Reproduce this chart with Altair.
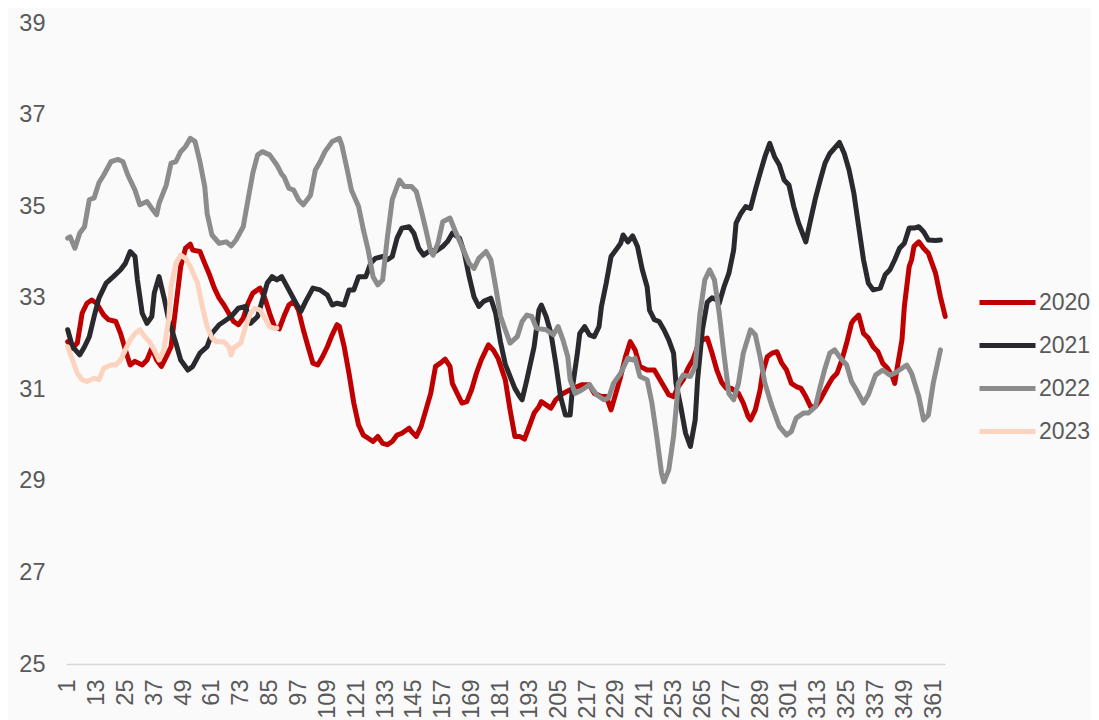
import altair as alt
import pandas as pd

years = ["2020", "2021", "2022", "2023"]
colors = ["#C00000", "#29292E", "#8C8C8C", "#FCD3BE"]

d2020 = [1, 3, 5, 7, 9, 11, 13, 16, 18, 21, 23, 25, 27, 29, 32, 34, 36, 38, 40, 42, 44, 46, 48, 50, 52, 53, 56, 58, 60, 62,
         64, 66, 68, 70, 72, 74, 76, 78, 81, 83, 85, 87, 89, 91, 93, 95, 97, 99, 101, 103, 105, 107, 109, 111, 113, 114, 116, 118, 120, 122,
         124, 126, 128, 130, 132, 134, 136, 138, 140, 143, 144, 146, 148, 150, 152, 154, 156, 158, 160, 161, 163, 165, 167, 169, 171, 173, 176, 178, 180, 183,
         185, 187, 189, 191, 193, 195, 197, 198, 200, 202, 204, 207, 210, 213, 215, 218, 220, 223, 225, 227, 229, 231, 233, 235, 237, 239, 242, 245, 247, 249,
         251, 253, 255, 257, 259, 261, 263, 265, 267, 269, 271, 273, 275, 277, 280, 282, 284, 285, 287, 289, 290, 292, 294, 296, 298, 300, 302, 304, 306, 308,
         310, 312, 314, 317, 319, 321, 323, 325, 327, 328, 330, 332, 334, 336, 338, 340, 342, 344, 345, 346, 348, 349, 351, 352, 353, 355, 357, 359, 362, 364, 366]
v2020 = [32.04, 31.90, 32.01, 32.66, 32.88, 32.95, 32.88, 32.62, 32.52, 32.48, 32.22, 31.86, 31.53, 31.61, 31.53, 31.64, 31.90, 31.64, 31.50, 31.71,
         31.93, 32.81, 33.68, 34.08, 34.17, 34.04, 34.01, 33.75, 33.50, 33.21, 32.99, 32.84, 32.66, 32.48, 32.41, 32.55, 32.88, 33.10, 33.21, 32.99,
         32.66, 32.37, 32.32, 32.60, 32.84, 32.92, 32.73, 32.30, 31.93, 31.57, 31.53, 31.71, 31.93, 32.19, 32.41, 32.37, 31.93, 31.35, 30.70, 30.22,
         30.00, 29.93, 29.86, 29.97, 29.82, 29.79, 29.86, 30.00, 30.04, 30.15, 30.08, 29.97, 30.19, 30.55, 30.91, 31.50, 31.57, 31.66, 31.50, 31.13,
         30.91, 30.70, 30.73, 30.99, 31.35, 31.64, 31.97, 31.86, 31.68, 31.21, 30.55, 29.97, 29.97, 29.91, 30.19, 30.48, 30.62, 30.73, 30.66, 30.59,
         30.77, 30.91, 30.99, 31.06, 31.10, 31.10, 30.91, 30.84, 30.84, 30.55, 30.91, 31.28, 31.71, 32.04, 31.86, 31.50, 31.42, 31.42, 31.24, 31.06,
         30.88, 30.84, 31.06, 31.21, 31.46, 31.64, 31.93, 32.08, 32.12, 31.79, 31.42, 31.15, 31.02, 31.02, 30.91, 30.70, 30.41, 30.33, 30.55, 30.99,
         31.35, 31.71, 31.79, 31.82, 31.57, 31.42, 31.13, 31.06, 31.02, 30.84, 30.62, 30.62, 30.77, 31.06, 31.24, 31.35, 31.64, 32.01, 32.44, 32.52,
         32.62, 32.22, 32.12, 31.93, 31.82, 31.57, 31.46, 31.28, 31.13, 31.46, 32.08, 32.81, 33.68, 33.83, 34.12, 34.22, 34.08, 33.97, 33.53, 33.02, 32.59]

d2021 = [1, 3, 6, 8, 10, 12, 14, 17, 20, 23, 25, 27, 29, 30, 32, 34, 36, 37, 39, 41, 43, 46, 48, 51, 53, 56, 59, 61, 64, 66,
         69, 72, 75, 77, 80, 82, 84, 86, 88, 90, 93, 96, 98, 100, 103, 106, 109, 111, 113, 116, 118, 120, 122, 125, 127, 129, 132, 134, 136, 138,
         140, 143, 145, 147, 149, 152, 154, 157, 159, 161, 164, 166, 168, 170, 172, 174, 177, 179, 181, 183, 185, 187, 189, 190, 192, 195, 197, 198, 200, 202,
         204, 206, 208, 210, 211, 213, 214, 216, 218, 220, 222, 223, 225, 227, 229, 231, 232, 234, 236, 238, 240, 242, 243, 245, 247, 249, 251, 253, 254, 256,
         258, 260, 262, 263, 265, 267, 269, 271, 272, 274, 276, 278, 279, 281, 283, 285, 287, 289, 291, 293, 295, 297, 299, 301, 303, 305, 308, 310, 312, 314,
         316, 318, 322, 324, 326, 328, 330, 332, 334, 336, 339, 341, 343, 345, 347, 349, 351, 353, 355, 357, 359, 362, 364]
v2021 = [32.30, 31.93, 31.75, 31.93, 32.15, 32.59, 32.99, 33.32, 33.46, 33.61, 33.75, 34.01, 33.90, 33.39, 32.66, 32.44, 32.59, 33.10, 33.46, 33.02,
         32.52, 32.01, 31.64, 31.42, 31.50, 31.79, 31.93, 32.22, 32.41, 32.48, 32.59, 32.77, 32.81, 32.44, 32.59, 32.95, 33.32, 33.46, 33.39, 33.46,
         33.17, 32.88, 32.70, 32.92, 33.21, 33.17, 33.06, 32.84, 32.88, 32.84, 33.17, 33.17, 33.46, 33.46, 33.75, 33.86, 33.90, 33.83, 33.90, 34.30,
         34.52, 34.55, 34.41, 34.08, 33.93, 34.04, 34.01, 34.12, 34.23, 34.41, 34.30, 33.97, 33.46, 33.02, 32.81, 32.92, 32.99, 32.66, 32.04, 31.55,
         31.28, 31.02, 30.84, 30.77, 31.21, 31.93, 32.73, 32.84, 32.59, 32.22, 31.57, 30.84, 30.44, 30.44, 31.06, 31.79, 32.22, 32.37, 32.19, 32.15,
         32.37, 32.81, 33.32, 33.90, 34.04, 34.19, 34.37, 34.22, 34.35, 34.12, 33.61, 33.24, 32.73, 32.52, 32.48, 32.30, 32.08, 31.79, 31.13, 30.62,
         30.04, 29.75, 30.33, 31.21, 32.30, 32.90, 33.00, 32.95, 32.88, 33.24, 33.53, 34.04, 34.63, 34.84, 34.99, 34.95, 35.35, 35.72, 36.08, 36.37,
         36.08, 35.90, 35.57, 35.46, 34.99, 34.63, 34.22, 34.70, 35.17, 35.57, 35.94, 36.15, 36.39, 36.15, 35.79, 35.28, 34.55, 33.83, 33.32, 33.17,
         33.21, 33.50, 33.61, 33.83, 34.08, 34.19, 34.52, 34.52, 34.55, 34.44, 34.26, 34.25, 34.26]

d2022 = [1, 2, 4, 6, 8, 10, 12, 14, 16, 19, 22, 24, 26, 29, 31, 34, 36, 38, 39, 42, 44, 46, 48, 50, 52, 54, 56, 58, 59, 61,
         64, 67, 69, 71, 74, 76, 78, 80, 82, 85, 88, 90, 91, 93, 95, 97, 99, 102, 104, 106, 108, 111, 114, 115, 117, 119, 122, 124, 126, 128,
         130, 132, 134, 136, 139, 141, 144, 146, 148, 150, 152, 153, 155, 157, 160, 162, 165, 168, 170, 172, 175, 177, 179, 181, 183, 185, 188, 190, 192, 194,
         196, 200, 203, 205, 207, 209, 210, 212, 215, 218, 221, 224, 226, 228, 231, 234, 236, 237, 239, 242, 244, 246, 248, 249, 251, 253, 255, 257, 260, 262,
         264, 266, 268, 270, 272, 274, 276, 278, 280, 282, 285, 287, 289, 291, 294, 297, 300, 302, 304, 307, 309, 312, 314, 316, 318, 320, 322, 325, 327, 329,
         332, 334, 337, 340, 343, 345, 348, 350, 352, 355, 357, 359, 361, 364]
v2022 = [34.30, 34.33, 34.08, 34.41, 34.55, 35.14, 35.18, 35.51, 35.68, 35.97, 36.02, 35.97, 35.68, 35.35, 35.03, 35.10, 34.95, 34.81, 35.06, 35.46,
         35.94, 35.97, 36.19, 36.30, 36.48, 36.41, 35.97, 35.43, 34.84, 34.37, 34.19, 34.22, 34.13, 34.26, 34.55, 35.14, 35.72, 36.12, 36.19, 36.12,
         35.90, 35.70, 35.64, 35.39, 35.35, 35.14, 35.03, 35.24, 35.79, 35.97, 36.19, 36.41, 36.48, 36.34, 35.86, 35.35, 34.99, 34.48, 34.04, 33.46,
         33.28, 33.39, 34.33, 35.14, 35.57, 35.43, 35.43, 35.32, 34.92, 34.48, 34.01, 33.93, 34.19, 34.66, 34.74, 34.48, 34.12, 33.75, 33.64, 33.86,
         34.01, 33.83, 33.24, 32.60, 32.30, 32.01, 32.15, 32.48, 32.62, 32.59, 32.33, 32.30, 32.19, 32.37, 32.08, 31.71, 31.21, 30.91, 30.99, 31.10,
         30.88, 30.77, 30.81, 31.13, 31.35, 31.68, 31.64, 31.68, 31.28, 31.21, 30.70, 29.97, 29.17, 28.98, 29.24, 29.97, 31.13, 31.31, 31.28, 31.50,
         32.66, 33.39, 33.61, 33.39, 32.66, 31.75, 30.91, 30.77, 31.13, 31.79, 32.30, 32.19, 31.71, 31.13, 30.62, 30.19, 30.00, 30.08, 30.37, 30.48,
         30.48, 30.62, 31.06, 31.46, 31.79, 31.86, 31.71, 31.53, 31.17, 30.99, 30.70, 30.88, 31.31, 31.42, 31.31, 31.35, 31.46, 31.53, 31.35, 30.84,
         30.33, 30.44, 31.13, 31.86]

d2023 = [1, 3, 5, 7, 9, 12, 14, 16, 19, 21, 23, 25, 27, 29, 31, 33, 35, 37, 39, 41, 43, 44, 46, 48, 50, 52, 55, 57, 59, 61,
         63, 66, 68, 69, 70, 73, 75, 77, 79, 81, 83, 85, 87, 88]
v2023 = [31.93, 31.64, 31.35, 31.21, 31.17, 31.24, 31.21, 31.46, 31.53, 31.53, 31.64, 31.86, 32.08, 32.22, 32.30, 32.15, 32.04, 31.86, 31.64, 31.86,
         32.52, 33.24, 33.75, 33.93, 33.86, 33.68, 33.32, 32.81, 32.37, 32.12, 32.04, 32.04, 31.93, 31.75, 31.90, 32.01, 32.37, 32.66, 32.77, 32.73,
         32.55, 32.37, 32.33, 32.34]

x_ticks = list(range(1, 366, 12))
y_ticks = [25, 27, 29, 31, 33, 35, 37, 39]

rows = []
for yr, ds, vs in [("2020", d2020, v2020), ("2021", d2021, v2021),
                   ("2022", d2022, v2022), ("2023", d2023, v2023)]:
    for d, v in zip(ds, vs):
        rows.append({"year": yr, "day": d, "value": v})
df = pd.DataFrame(rows)

FONT = "Liberation Sans"
TXT = "#595959"

chart = alt.Chart(df).mark_line(
    strokeWidth=5, strokeJoin="round", strokeCap="round"
).encode(
    x=alt.X("day:Q",
            scale=alt.Scale(domain=[0.3, 365.9], nice=False, zero=False),
            axis=alt.Axis(values=x_ticks, labelAngle=-90, labelAlign="right",
                          labelBaseline="middle", ticks=False, grid=False,
                          domainColor="#D9D9D9", domainWidth=1.5, labelPadding=15,
                          labelFontSize=23.5, labelColor=TXT, labelFont=FONT,
                          title=None, labelOverlap=False)),
    y=alt.Y("value:Q",
            scale=alt.Scale(domain=[25, 39], nice=False, zero=False),
            axis=alt.Axis(values=y_ticks, ticks=False, grid=False, domain=False,
                          labelPadding=21, labelFontSize=23.5, labelColor=TXT,
                          labelFont=FONT, title=None)),
    color=alt.Color("year:N",
                    scale=alt.Scale(domain=years, range=colors),
                    legend=alt.Legend(title=None, orient="none", legendX=911, legendY=249,
                                      symbolType="stroke", symbolSize=3136,
                                      symbolStrokeWidth=5, labelFontSize=23,
                                      labelColor=TXT, labelFont=FONT, rowPadding=-1,
                                      labelOffset=1, padding=0)),
).properties(
    width=879, height=641,
    autosize=alt.AutoSizeParams(type="none"),
    padding={"left": 58, "top": 15, "right": 146, "bottom": 56},
    background="#FAFAFA",
).configure_view(stroke=None)

chart.save("out.html", embed_options={"renderer": "svg", "actions": False})
